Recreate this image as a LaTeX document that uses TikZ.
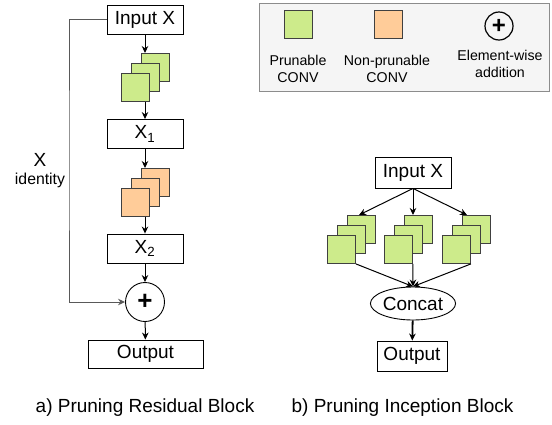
\documentclass[tikz,border=0pt]{standalone}
\usepackage{fontspec}
\setmainfont{Liberation Sans}
\usetikzlibrary{arrows.meta,positioning,calc,shapes.geometric}
\definecolor{prungreen}{HTML}{CDEB8B}
\definecolor{prunorange}{HTML}{FFCC99}
\definecolor{leggray}{HTML}{F5F5F5}
\newcommand{\addsign}[1]{{\fontsize{#1}{#1}\selectfont\bfseries +}}

\begin{document}
\begin{tikzpicture}[x=1pt,y=-1pt,>={Stealth[length=7pt,width=6.5pt]},
  every node/.style={font=\fontsize{19}{22}\selectfont},
  blk/.style={draw,line width=0.9pt,inner sep=0pt,minimum width=76pt,minimum height=29pt},
  conv/.style={draw=black!75,line width=0.9pt,inner sep=0pt,minimum size=28pt,anchor=north west},
  prun/.style={conv,fill=prungreen},
  nonprun/.style={conv,fill=prunorange},
  add/.style={draw,circle,line width=0.9pt,inner sep=0pt,minimum size=39pt},
  arr/.style={->,line width=1pt},
  small/.style={font=\fontsize{14.2}{17}\selectfont,align=center}]
\useasboundingbox (0,0) rectangle (552,424);
%
% legend
  \node[draw=black!45,fill=leggray,line width=0.9pt,inner sep=0pt,minimum width=290pt,minimum height=88pt] (leg) at (404,47) {};
  \node[prun,anchor=center] (legp) at (298.5,24.5) {};
  \node[nonprun,anchor=center] (legn) at (388.5,24.5) {};
  \node[add,minimum size=28pt,line width=1.2pt] (lega) at (499,26) {\addsign{24}};
  \node[small] (legpt) at (298,68.5) {Prunable\\CONV};
  \node[small] (legnt) at (387,68.5) {Non-prunable\\CONV};
  \node[small] (legat) at (500,63.5) {Element-wise\\addition};
%
% a) residual block
  \node[blk] (inA) at (145,19.5) {Input X};
  \node[blk] (x1) at (145,134) {X\textsubscript{1}};
  \node[blk] (x2) at (145,248.5) {X\textsubscript{2}};
  \node[add] (addA) at (145,302) {\addsign{26}};
  \node[blk,minimum width=115pt,minimum height=28pt] (outA) at (145.5,354) {Output};
  \foreach \n/\x/\y/\s in {conva/121/73/prun,convb/121/188/nonprun}
    \foreach \i in {3,2,1}
      \node[\s] (\n\i) at ({\x+(\i-1)*10},{\y-(\i-1)*10}) {};
  \coordinate (idc) at (69,160);
  \node (idx) at (40,160) {X};
  \node[font=\fontsize{15.8}{18}\selectfont] (idt) at (40,180) {identity};
%
  \draw[arr] (inA) -- (inA.south |- conva3.north);
  \draw[arr] (conva1.south -| inA.south) -- (x1);
  \draw[arr] (x1) -- (x1.south |- convb3.north);
  \draw[arr] (convb1.south -| x1.south) -- (x2);
  \draw[arr] (x2) -- (addA);
  \draw[arr] (addA) -- (outA);
  \draw[arr,draw=black!65] (inA.west) -| (idc) |- (addA.west);
%
% b) inception block
  \node[blk,minimum height=31pt] (inB) at (413,172.5) {Input X};
  \node[draw,ellipse,line width=0.9pt,inner sep=0pt,minimum width=78pt,minimum height=33pt] (cat) at (413,303.5) {Concat};
  \node[blk,minimum width=70pt,minimum height=30pt] (outB) at (412,356) {Output};
  \foreach \n/\x/\t in {incl/327/359,incm/384/413,incr/442/467} {
    \foreach \i in {3,2,1}
      \node[prun] (\n\i) at ({\x+(\i-1)*10},{235-(\i-1)*10}) {};
    \coordinate (\n top) at (\t,215);
    \draw[arr] (inB.south) -- (\n top);
    \draw[arr] (\n1.south east) -- (cat.north);
  }
  \draw[->,line width=1.8pt] (cat) -- (outB);
%
  \node (capA) at (145,408) {a) Pruning Residual Block};
  \node (capB) at (402.5,408) {b) Pruning Inception Block};
\end{tikzpicture}
\end{document}
